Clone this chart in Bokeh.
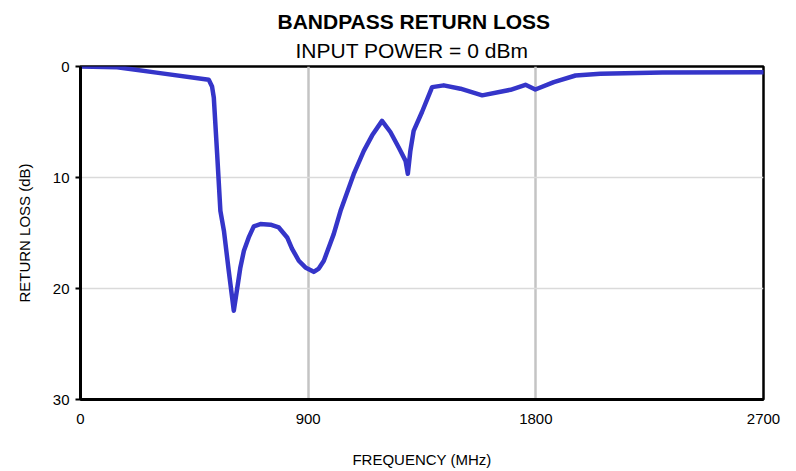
from bokeh.plotting import figure
from bokeh.models import Range1d, Title
from bokeh.embed import file_html
from bokeh.resources import INLINE

# Frequency (MHz) and return loss (dB)
freq = [0, 145, 300, 507, 520, 527, 540, 553, 567, 586, 606, 622, 632, 646, 665,
        685, 711, 751, 784, 817, 836, 863, 889, 922, 942, 962, 1001, 1028, 1080,
        1120, 1153, 1192, 1225, 1258, 1285, 1294, 1304, 1317, 1350, 1390, 1436,
        1502, 1588, 1700, 1759, 1798, 1871, 1957, 2055, 2300, 2700]
loss = [0.0, 0.06, 0.55, 1.2, 1.8, 2.8, 7.8, 13.0, 14.8, 18.4, 22.0, 19.6, 18.1,
        16.6, 15.4, 14.4, 14.2, 14.25, 14.5, 15.4, 16.4, 17.5, 18.1, 18.5, 18.2,
        17.5, 15.1, 13.0, 9.7, 7.6, 6.2, 4.9, 5.9, 7.3, 8.5, 9.67, 7.6, 5.8, 4.1,
        1.86, 1.7, 2.0, 2.6, 2.1, 1.65, 2.07, 1.4, 0.81, 0.66, 0.55, 0.51]
x_ticks = [0, 900, 1800, 2700]
y_ticks = [0, 10, 20, 30]

FONT = "Liberation Sans"

p = figure(width=796, height=471, output_backend="svg", toolbar_location=None,
           x_range=Range1d(0, 2700), y_range=Range1d(30, 0),
           min_border_left=80, min_border_right=33, min_border_top=66,
           min_border_bottom=72, background_fill_color="white",
           border_fill_color="white")

p.add_layout(Title(text="INPUT POWER = 0 dBm", align="left", offset=215,
                   text_font=FONT, text_font_size="21px",
                   text_font_style="normal", text_color="black", standoff=9), "above")
p.add_layout(Title(text="BANDPASS RETURN LOSS", align="left", offset=197,
                   text_font=FONT, text_font_size="21px",
                   text_font_style="bold", text_color="black", standoff=0), "above")

p.line(freq, loss, line_color="#3535c9", line_width=4.5, line_join="round",
       line_cap="round")

p.outline_line_color = "black"
p.outline_line_width = 2.5

xa = p.xaxis[0]
xa.ticker = x_ticks
xa.axis_label = "FREQUENCY (MHz)"
xa.axis_line_width = 3
xa.axis_line_color = "black"
xa.major_tick_out = 0
xa.major_tick_in = 0
xa.minor_tick_out = 0
xa.minor_tick_in = 0
xa.major_label_standoff = 14
xa.axis_label_standoff = 24
xa.major_label_text_font = FONT
xa.major_label_text_font_size = "15px"
xa.major_label_text_color = "black"
xa.axis_label_text_font = FONT
xa.axis_label_text_font_size = "15px"
xa.axis_label_text_font_style = "normal"
xa.axis_label_text_color = "black"

ya = p.yaxis[0]
ya.ticker = y_ticks
ya.axis_label = "RETURN LOSS (dB)"
ya.axis_line_width = 3
ya.axis_line_color = "black"
ya.major_tick_out = 5
ya.major_tick_in = 0
ya.major_tick_line_width = 2
ya.minor_tick_out = 0
ya.minor_tick_in = 0
ya.major_label_standoff = 6
ya.axis_label_standoff = 17
ya.major_label_text_font = FONT
ya.major_label_text_font_size = "15px"
ya.major_label_text_color = "black"
ya.axis_label_text_font = FONT
ya.axis_label_text_font_size = "15px"
ya.axis_label_text_font_style = "normal"
ya.axis_label_text_color = "black"

p.xgrid.ticker = x_ticks
p.xgrid.grid_line_color = "#c4c4c4"
p.xgrid.grid_line_width = 2.5
p.ygrid.ticker = y_ticks
p.ygrid.grid_line_color = "#dadada"
p.ygrid.grid_line_width = 1.5

open("out.html", "w").write(file_html(p, INLINE))
